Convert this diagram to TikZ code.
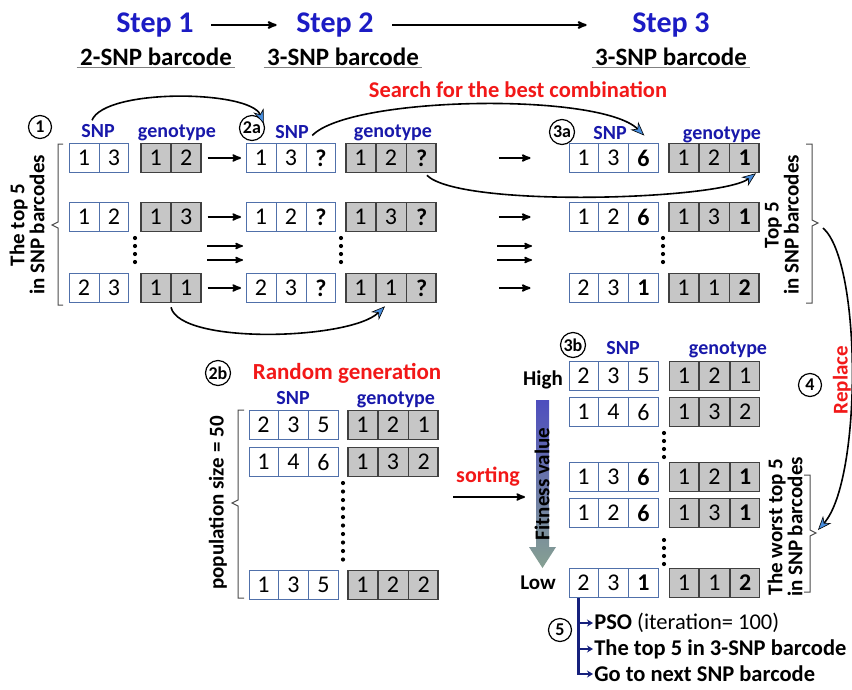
\documentclass[tikz,border=0pt]{standalone}
\usepackage{fontspec}
\setmainfont{Carlito}
\usepackage{tikz}
\usetikzlibrary{arrows,arrows.meta,shapes.multipart}

\definecolor{stepblue}{RGB}{28,28,196}
\definecolor{lblblue}{RGB}{24,24,170}
\definecolor{hotred}{RGB}{242,24,24}
\definecolor{cellblue}{RGB}{80,112,170}
\definecolor{genogray}{RGB}{198,198,198}
\definecolor{swoopblue}{RGB}{72,142,222}
\definecolor{navyline}{RGB}{22,32,124}
\definecolor{fittop}{RGB}{78,78,190}
\definecolor{fitmid}{RGB}{214,214,246}
\definecolor{fitbot}{RGB}{134,160,146}

\begin{document}
\begin{tikzpicture}[x=1pt,y=-1pt,>=stealth',semithick,
                    font=\fontsize{21}{20}\selectfont\bfseries]
  \tikzstyle{snp}=[rectangle split, rectangle split horizontal, draw=cellblue,
                   line width=1pt, fill=white, text width=17pt, align=center,
                   inner xsep=6pt, inner ysep=4.5pt, text height=17.5pt,
                   text depth=2.5pt, font=\fontsize{24}{24}\selectfont\mdseries]
  \tikzstyle{snptwo}=[snp, rectangle split parts=2]
  \tikzstyle{snpthree}=[snp, rectangle split parts=3]
  \tikzstyle{genotwo}=[snptwo, draw=black!75, fill=genogray, line width=1.6pt]
  \tikzstyle{genothree}=[snpthree, draw=black!75, fill=genogray, line width=1.6pt]
  \tikzstyle{lbl}=[anchor=base, text=lblblue, font=\fontsize{20}{20}\selectfont\bfseries]
  \tikzstyle{num}=[circle, draw, line width=1.2pt, inner sep=0pt, minimum size=23pt,
                   font=\fontsize{18}{18}\selectfont\bfseries]
  \tikzstyle{bracket}=[draw=black!70, line width=1pt]
  \tikzstyle{swoop}=[draw=black, line width=1.6pt,
                     -{Stealth[length=14pt,width=11pt,fill=swoopblue,line width=0.6pt]}]
  \tikzstyle{rowarrow}=[->, line width=1.9pt]
  \tikzstyle{vdots}=[line width=4.2pt, line cap=round, dash pattern=on 0pt off 8pt]
  \tikzstyle{branch}=[draw=navyline, line width=2pt, -{Stealth[length=6pt,width=7pt]}]
  \tikzstyle{psoline}=[anchor=west, inner sep=1pt, font=\fontsize{22.5}{22.5}\selectfont\bfseries]

  \useasboundingbox[fill=white] (0,0) rectangle (852,689);

  % steps
  \node[text=stepblue, font=\fontsize{30}{30}\selectfont\bfseries] (st1) at (155,25) {Step 1};
  \node[text=stepblue, font=\fontsize{30}{30}\selectfont\bfseries] (st2) at (335,25) {Step 2};
  \node[text=stepblue, font=\fontsize{30}{30}\selectfont\bfseries] (st3) at (671,25) {Step 3};
  \draw[->, line width=2pt, shorten <=14pt, shorten >=16pt] (st1) -- (st2);
  \draw[->, line width=2pt, shorten <=15pt, shorten >=42pt] (st2) -- (st3);

  \node[font=\fontsize{25}{25}\selectfont\bfseries] (sub1) at (156,57) {2-SNP barcode};
  \node[font=\fontsize{25}{25}\selectfont\bfseries] (sub2) at (343,57) {3-SNP barcode};
  \node[font=\fontsize{25}{25}\selectfont\bfseries] (sub3) at (671,57) {3-SNP barcode};
  \draw[gray, line width=1.3pt] ([yshift=2pt]sub1.south west) -- ([yshift=2pt]sub1.south east);
  \draw[gray, line width=1.3pt] ([yshift=2pt]sub2.south west) -- ([yshift=2pt]sub2.south east);
  \draw[gray, line width=1.3pt] ([yshift=2pt]sub3.south west) -- ([yshift=2pt]sub3.south east);

  \node[text=hotred, font=\fontsize{22.5}{22.5}\selectfont\bfseries] (srch) at (518,90)
    {Search for the best combination};

  % column heads
  \node[num] (n1) at (40,127) {1};
  \node[lbl] (snpA) at (98,137) {SNP};
  \node[lbl] (genA) at (177,137) {genotype};
  \node[num, minimum size=25pt] (n2a) at (252,128) {2a};
  \node[lbl] (snpB) at (292,138) {SNP};
  \node[lbl] (genB) at (393,137) {genotype};
  \node[num, minimum size=25pt] (n3a) at (562,132) {3a};
  \node[lbl] (snpC) at (610,139) {SNP};
  \node[lbl] (genC) at (722,139) {genotype};

  % step 1
  \node[snptwo]  (p1)  at (99,158)  {1 \nodepart{two} 3};
  \node[genotwo] (pg1) at (171,158) {1 \nodepart{two} 2};
  \node[snptwo]  (p2)  at (99,217)  {1 \nodepart{two} 2};
  \node[genotwo] (pg2) at (171,217) {1 \nodepart{two} 3};
  \node[snptwo]  (p3)  at (99,288)  {2 \nodepart{two} 3};
  \node[genotwo] (pg3) at (171,288) {1 \nodepart{two} 1};

  % step 2
  \node[snpthree]  (q1)  at (291,158) {1 \nodepart{two} 3 \nodepart{three} \textbf{?}};
  \node[genothree] (qg1) at (391,158) {1 \nodepart{two} 2 \nodepart{three} \textbf{?}};
  \node[snpthree]  (q2)  at (291,217) {1 \nodepart{two} 2 \nodepart{three} \textbf{?}};
  \node[genothree] (qg2) at (391,217) {1 \nodepart{two} 3 \nodepart{three} \textbf{?}};
  \node[snpthree]  (q3)  at (291,288) {2 \nodepart{two} 3 \nodepart{three} \textbf{?}};
  \node[genothree] (qg3) at (391,288) {1 \nodepart{two} 1 \nodepart{three} \textbf{?}};

  % step 3
  \node[snpthree]  (r1)  at (613.5,158) {1 \nodepart{two} 3 \nodepart{three} \textbf{6}};
  \node[genothree] (rg1) at (714,158)   {1 \nodepart{two} 2 \nodepart{three} \textbf{1}};
  \node[snpthree]  (r2)  at (613.5,217) {1 \nodepart{two} 2 \nodepart{three} \textbf{6}};
  \node[genothree] (rg2) at (714,217)   {1 \nodepart{two} 3 \nodepart{three} \textbf{1}};
  \node[snpthree]  (r3)  at (613.5,288) {2 \nodepart{two} 3 \nodepart{three} \textbf{1}};
  \node[genothree] (rg3) at (714,288)   {1 \nodepart{two} 1 \nodepart{three} \textbf{2}};

  \draw[vdots] (135,238) -- (135,264);
  \draw[vdots] (341,238) -- (341,264);
  \draw[vdots] (663,238) -- (663,264);

  \draw[rowarrow, shorten <=6pt, shorten >=5pt] (pg1) -- (q1);
  \draw[rowarrow, shorten <=6pt, shorten >=5pt] (pg2) -- (q2);
  \draw[rowarrow, shorten <=6pt, shorten >=5pt] (pg3) -- (q3);
  \draw[rowarrow, shorten <=62pt, shorten >=38pt] (qg1) -- (r1);
  \draw[rowarrow, shorten <=62pt, shorten >=38pt] (qg2) -- (r2);
  \draw[rowarrow, shorten <=62pt, shorten >=38pt] (qg3) -- (r3);

  \coordinate (da1) at (207,246); \coordinate (db1) at (243,246);
  \coordinate (da2) at (207,260); \coordinate (db2) at (243,260);
  \coordinate (dc1) at (497,246); \coordinate (dd1) at (532,246);
  \coordinate (dc2) at (497,260); \coordinate (dd2) at (532,260);
  \draw[->, line width=1.6pt] (da1) -- (db1);
  \draw[->, line width=1.6pt] (da2) -- (db2);
  \draw[->, line width=1.6pt] (dc1) -- (dd1);
  \draw[->, line width=1.6pt] (dc2) -- (dd2);

  % brackets
  \draw[bracket] (63,144) -- (58,144) -- (58,222) -- (52,225) -- (58,228) -- (58,305) -- (63,305);
  \draw[bracket] (806,144) -- (812,144) -- (812,220) -- (818,223) -- (812,226) -- (812,303) -- (806,303);
  \node[rotate=90, align=center] (topl) at (27,225) {The top 5\\in SNP barcodes};
  \node[rotate=90, align=center] (topr) at (782,225) {Top 5\\in SNP barcodes};
  \coordinate (tf) at (823,228);

  % swoops
  \draw[swoop] ([xshift=-6pt]snpA.north) .. controls (105,88) and (250,90) .. ([xshift=-8pt,yshift=-2pt]snpB.north west);
  \draw[swoop] ([yshift=-4pt]snpB.east) .. controls (350,96) and (600,92) .. ([xshift=14pt,yshift=-3pt]snpC.east);
  \draw[swoop] ([xshift=-10pt,yshift=-2pt]qg1.south east) .. controls (460,208) and (720,200) .. ([xshift=-4pt]rg1.south east);
  \draw[swoop] ([yshift=-4pt]pg3.south) .. controls (180,345) and (350,340) .. ([xshift=-6pt,yshift=-3pt]qg3.south);

  % random generation
  \node[num, minimum size=25pt] (n2b) at (218,373) {2b};
  \node[text=hotred, font=\fontsize{23}{23}\selectfont\bfseries] (rand) at (347,373) {Random generation};
  \node[lbl] (snpD) at (293,404) {SNP};
  \node[lbl] (genD) at (396,404) {genotype};
  \node[snpthree]  (u1)  at (293.5,425) {2 \nodepart{two} 3 \nodepart{three} 5};
  \node[genothree] (ug1) at (393,425)   {1 \nodepart{two} 2 \nodepart{three} 1};
  \node[snpthree]  (u2)  at (293.5,462) {1 \nodepart{two} 4 \nodepart{three} 6};
  \node[genothree] (ug2) at (393,462)   {1 \nodepart{two} 3 \nodepart{three} 2};
  \node[snpthree]  (u3)  at (293.5,585) {1 \nodepart{two} 3 \nodepart{three} 5};
  \node[genothree] (ug3) at (393,585)   {1 \nodepart{two} 2 \nodepart{three} 2};
  \draw[vdots, dash pattern=on 0pt off 8.5pt] (343,483) -- (343,562);
  \draw[bracket] (244,410) -- (238,410) -- (238,500) -- (232,503) -- (238,506) -- (238,598) -- (244,598);
  \node[rotate=90] (pop) at (218,503) {population size = 50};

  \node[text=hotred, font=\fontsize{22}{22}\selectfont\bfseries] (sort) at (488,477) {sorting};
  \coordinate (sortL) at (453,497);
  \coordinate (sortR) at (525,497);
  \draw[->, line width=1.9pt] (sortL) -- (sortR);

  % sorted population
  \node[num, minimum size=25pt] (n3b) at (573,345) {3b};
  \node[lbl] (snpE) at (623,354) {SNP};
  \node[lbl] (genE) at (728,354) {genotype};
  \node (high) at (543,380) {High};
  \node (low) at (538,583) {Low};
  \node[snpthree]  (v1)  at (613.5,376) {2 \nodepart{two} 3 \nodepart{three} 5};
  \node[genothree] (vg1) at (714.5,376) {1 \nodepart{two} 2 \nodepart{three} 1};
  \node[snpthree]  (v2)  at (613.5,412) {1 \nodepart{two} 4 \nodepart{three} 6};
  \node[genothree] (vg2) at (714.5,412) {1 \nodepart{two} 3 \nodepart{three} 2};
  \node[snpthree]  (v3)  at (613.5,477) {1 \nodepart{two} 3 \nodepart{three} \textbf{6}};
  \node[genothree] (vg3) at (714.5,477) {1 \nodepart{two} 2 \nodepart{three} \textbf{1}};
  \node[snpthree]  (v4)  at (613.5,513) {1 \nodepart{two} 2 \nodepart{three} \textbf{6}};
  \node[genothree] (vg4) at (714.5,513) {1 \nodepart{two} 3 \nodepart{three} \textbf{1}};
  \node[snpthree]  (v5)  at (613.5,583) {2 \nodepart{two} 3 \nodepart{three} \textbf{1}};
  \node[genothree] (vg5) at (714.5,583) {1 \nodepart{two} 1 \nodepart{three} \textbf{2}};
  \draw[vdots] (664,433) -- (664,459);
  \draw[vdots] (664,540) -- (664,566);

  \shade[top color=fittop, middle color=fitmid, bottom color=fitbot]
    (536,400) -- (549,400) -- (549,547) -- (556,547) -- (542.5,568) -- (529,547) -- (536,547) -- cycle;
  \node[rotate=90] (fit) at (542,484) {Fitness value};

  \draw[bracket] (804,475) -- (810,475) -- (810,530) -- (816,533) -- (810,536) -- (810,592) -- (804,592);
  \node[rotate=90, align=center] (worst) at (785,527) {The worst top 5\\in SNP barcodes};
  \coordinate (wf) at (818,530);

  % replace
  \node[num] (n4) at (810,385) {4};
  \node[rotate=90, text=hotred] (repl) at (842,380) {Replace};
  \draw[swoop] (tf) .. controls (862,262) and (862,480) .. (wf);

  % next step
  \node[num] (n5) at (560,630) {5};
  \node[psoline] (l1) at (593,623) {PSO \mdseries(iteration= 100)};
  \node[psoline] (l2) at (593,649) {The top 5 in 3-SNP barcode};
  \node[psoline] (l3) at (593,674) {Go to next SNP barcode};
  \coordinate (psoTop) at ([xshift=10pt]v5.south west);
  \draw[navyline, line width=3pt] (psoTop) -- ([yshift=1.5pt]psoTop |- l3.west);
  \draw[branch] (psoTop |- l1.west) -- (l1.west);
  \draw[branch] (psoTop |- l2.west) -- (l2.west);
  \draw[branch] ([xshift=-1.5pt]psoTop |- l3.west) -- (l3.west);
\end{tikzpicture}
\end{document}
